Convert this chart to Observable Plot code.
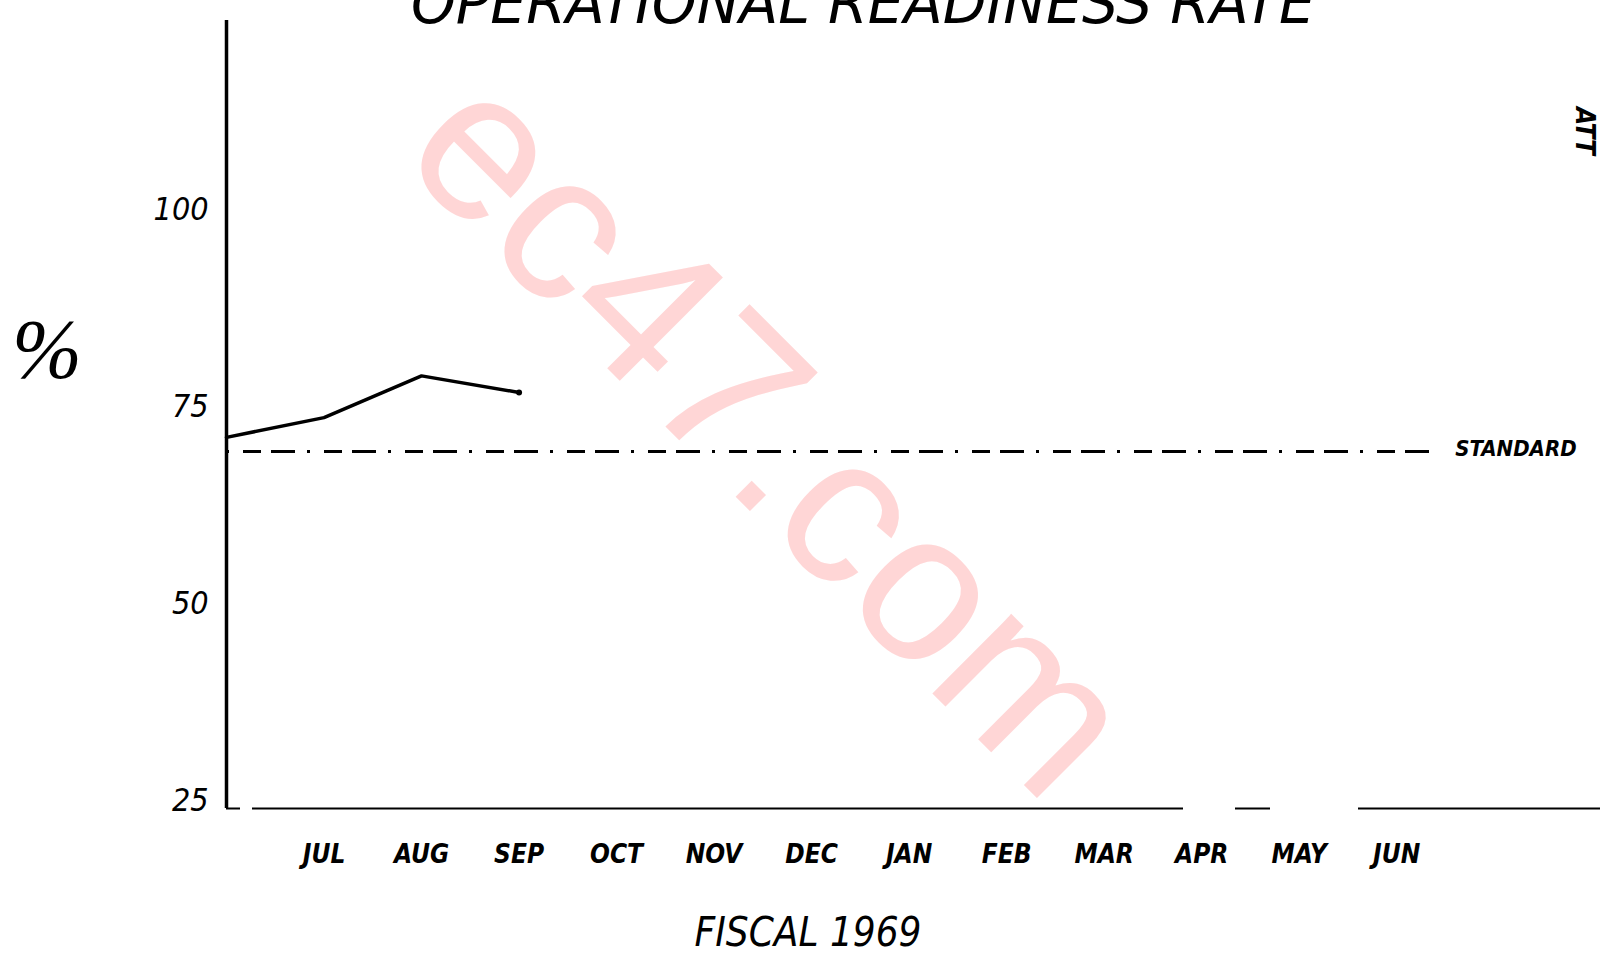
<!DOCTYPE html>
<html>
<head>
<meta charset="utf-8">
<script src="https://cdn.jsdelivr.net/npm/d3@7"></script>
<script src="https://cdn.jsdelivr.net/npm/@observablehq/plot@0.6"></script>
<style>
  html, body { margin: 0; padding: 0; background: #fff; overflow: hidden; }
  svg { display: block; }
</style>
</head>
<body>
<script>
// ---- data ----
const months = ["JUL","AUG","SEP","OCT","NOV","DEC","JAN","FEB","MAR","APR","MAY","JUN"];
const monthIndex = [1,2,3,4,5,6,7,8,9,10,11,12];
const rateIndex = [0, 1, 2, 3];               // 0 = start of fiscal year
const rateValues = [71.1, 73.6, 78.9, 76.8];  // operational readiness, %
const standardValue = 69.3;
const standardLabel = "STANDARD";
const yTicks = [25, 50, 75, 100];
const titleText = "OPERATIONAL READINESS RATE";
const xTitle = "FISCAL 1969";
const yTitle = "%";
const cornerNote = "ATT";
const watermark = "ec47.com";

const rateData = rateIndex.map((i, k) => ({i, v: rateValues[k]}));

const handFont = "'DejaVu Sans Condensed', 'Liberation Sans Narrow', sans-serif";

const chart = Plot.plot({
  width: 1613,
  height: 958,
  marginTop: 20,
  marginBottom: 150,
  marginLeft: 226,
  marginRight: 13,
  style: {background: "transparent", color: "#000"},
  x: {domain: [0, 14.09]},
  y: {domain: [24, 124]},
  marks: [
    // standard line (dashed)
    Plot.ruleY([standardValue], {x1: 0, x2: 12.45, stroke: "#000", strokeWidth: 3, strokeDasharray: "3,14,18,10,24,12"}),
    Plot.text([standardLabel], {x: 12.6, y: standardValue, text: d => d, textAnchor: "start", lineAnchor: "bottom", dy: 4,
      fontSize: 22, fontStyle: "italic", fontWeight: "bold", fontFamily: handFont, fill: "#000"}),
    // baseline (x axis line)
    Plot.ruleY([24], {x1: 0, x2: 14.09, stroke: "#000", strokeWidth: 2, strokeDasharray: "14,12,931,52,35,88,300"}),
    // y axis line
    Plot.ruleX([0], {y1: 24, y2: 124, stroke: "#000", strokeWidth: 3.5}),
    // readiness line
    Plot.line(rateData, {x: "i", y: "v", stroke: "#000", strokeWidth: 3.5, strokeLinecap: "round", strokeLinejoin: "round"}),
    Plot.dot(rateData.slice(-1), {x: "i", y: "v", r: 3, fill: "#000"}),
    Plot.axisY({ticks: yTicks, tickSize: 0, tickPadding: 18, tickFormat: d => String(d), label: null,
      fontSize: 32, fontStyle: "italic", fontFamily: handFont, fill: "#000"}),
    Plot.axisX({ticks: monthIndex, tickSize: 0, tickPadding: 36, tickFormat: i => months[i - 1], label: null,
      fontSize: 26, fontStyle: "italic", fontWeight: "bold", fontFamily: handFont, fill: "#000"})
  ]
});

document.body.appendChild(chart);

// ---- decorative / title texts ----
const svg = d3.select(chart);

// watermark behind everything
svg.insert("text", ":first-child")
  .attr("transform", "translate(722,483) rotate(45)")
  .attr("text-anchor", "middle")
  .attr("font-family", "'Liberation Sans', Arial, sans-serif")
  .attr("font-size", 212)
  .attr("fill", "#ffd6d6")
  .text(watermark);

// title, cut off at the top
svg.append("text")
  .attr("x", 411).attr("y", 23)
  .attr("text-anchor", "start")
  .attr("font-family", handFont)
  .attr("font-size", 58)
  .attr("font-style", "italic")
  .attr("textLength", 904)
  .attr("lengthAdjust", "spacingAndGlyphs")
  .attr("fill", "#000")
  .text(titleText);

// y axis title
svg.append("text")
  .attr("x", 47).attr("y", 378)
  .attr("text-anchor", "middle")
  .attr("font-family", "'Liberation Serif', 'DejaVu Serif', serif")
  .attr("font-style", "italic")
  .attr("font-size", 84)
  .attr("fill", "#000")
  .text(yTitle);

// x axis title
svg.append("text")
  .attr("x", 808).attr("y", 946)
  .attr("text-anchor", "middle")
  .attr("font-family", handFont)
  .attr("font-style", "italic")
  .attr("font-size", 40)
  .attr("fill", "#000")
  .text(xTitle);

// corner note, rotated
svg.append("text")
  .attr("transform", "translate(1576,131) rotate(90)")
  .attr("text-anchor", "middle")
  .attr("font-family", handFont)
  .attr("font-style", "italic")
  .attr("font-weight", "bold")
  .attr("font-size", 26)
  .attr("fill", "#000")
  .text(cornerNote);
</script>
</body>
</html>
